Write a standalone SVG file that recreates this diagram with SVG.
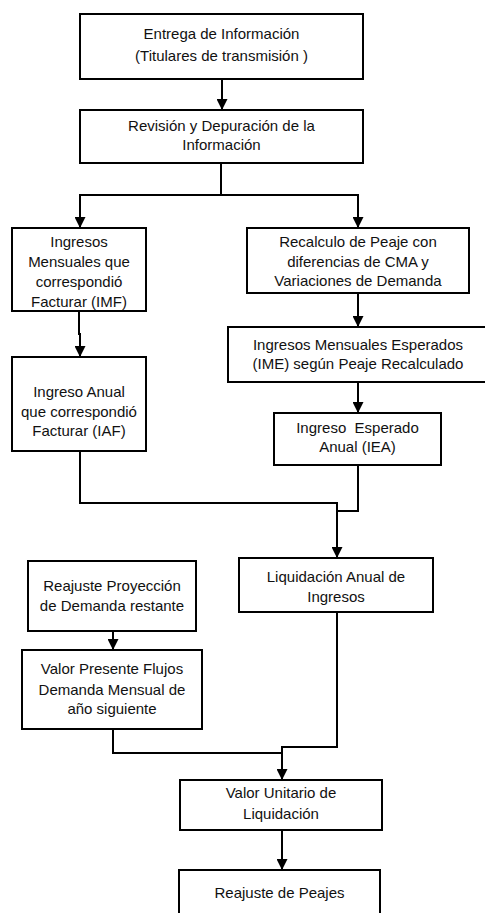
<svg xmlns="http://www.w3.org/2000/svg" width="485" height="913" viewBox="0 0 485 913">
<style>
.box{fill:#fff;stroke:#000;stroke-width:2}
.t{font-family:"Liberation Sans",Arial,sans-serif;font-size:15px;fill:#111;text-anchor:middle}
.c{fill:none;stroke:#000;stroke-width:2}
</style>
<defs>
<marker id="ah" markerUnits="userSpaceOnUse" markerWidth="12" markerHeight="11" refX="11" refY="5.5" orient="auto">
<path d="M0,0 L11,5.5 L0,11 z" fill="#000"/>
</marker>
</defs>
<rect width="485" height="913" fill="#fff"/>
<g id="connectors">
<path class="c" d="M222,79 V110" marker-end="url(#ah)"/>
<path class="c" d="M221,163 V195 H80 V228" marker-end="url(#ah)"/>
<path class="c" d="M221,195 H358 V228" marker-end="url(#ah)"/>
<path class="c" d="M79,311 V334 H80 V357" marker-end="url(#ah)"/>
<path class="c" d="M358,293 V327" marker-end="url(#ah)"/>
<path class="c" d="M358,382 V413" marker-end="url(#ah)"/>
<path class="c" d="M80,451 V503 H337 V558" marker-end="url(#ah)"/>
<path class="c" d="M358,465 V511 H337"/>
<path class="c" d="M113,631 V650" marker-end="url(#ah)"/>
<path class="c" d="M337,612 V747 H282 V780" marker-end="url(#ah)"/>
<path class="c" d="M113,729 V753 H282"/>
<path class="c" d="M282,830 V870" marker-end="url(#ah)"/>
</g>
<g id="n1"><rect class="box" x="80" y="14" width="283" height="65"/>
<text class="t" x="221.5" y="39">Entrega de Información</text>
<text class="t" x="221.5" y="61">(Titulares de transmisión )</text></g>
<g id="n2"><rect class="box" x="80" y="110" width="283" height="53"/>
<text class="t" x="221.5" y="131">Revisión y Depuración de la</text>
<text class="t" x="221.5" y="150">Información</text></g>
<g id="n3"><rect class="box" x="12" y="228" width="134" height="83"/>
<text class="t" x="79" y="247">Ingresos</text>
<text class="t" x="79" y="267">Mensuales que</text>
<text class="t" x="79" y="287">correspondió</text>
<text class="t" x="79" y="307">Facturar (IMF)</text></g>
<g id="n4"><rect class="box" x="12" y="357" width="134" height="94"/>
<text class="t" x="79" y="397">Ingreso Anual</text>
<text class="t" x="79" y="417">que correspondió</text>
<text class="t" x="79" y="436">Facturar (IAF)</text></g>
<g id="n5"><rect class="box" x="247" y="228" width="222" height="65"/>
<text class="t" x="358" y="247">Recalculo de Peaje con</text>
<text class="t" x="358" y="267">diferencias de CMA y</text>
<text class="t" x="358" y="286">Variaciones de Demanda</text></g>
<g id="n6"><rect class="box" x="228" y="327" width="260" height="55"/>
<text class="t" x="358" y="350">Ingresos Mensuales Esperados</text>
<text class="t" x="358" y="369">(IME) según Peaje Recalculado</text></g>
<g id="n7"><rect class="box" x="274" y="413" width="167" height="52"/>
<text class="t" x="357.5" y="433" xml:space="preserve">Ingreso  Esperado</text>
<text class="t" x="357.5" y="452">Anual (IEA)</text></g>
<g id="n8"><rect class="box" x="239" y="558" width="194" height="54"/>
<text class="t" x="336" y="582">Liquidación Anual de</text>
<text class="t" x="336" y="602">Ingresos</text></g>
<g id="n9"><rect class="box" x="28" y="561" width="168" height="70"/>
<text class="t" x="112" y="591">Reajuste Proyección</text>
<text class="t" x="112" y="611">de Demanda restante</text></g>
<g id="n10"><rect class="box" x="22" y="650" width="180" height="79"/>
<text class="t" x="112" y="674">Valor Presente Flujos</text>
<text class="t" x="112" y="695">Demanda Mensual de</text>
<text class="t" x="112" y="714">año siguiente</text></g>
<g id="n11"><rect class="box" x="180" y="780" width="202" height="50"/>
<text class="t" x="281" y="798">Valor Unitario de</text>
<text class="t" x="281" y="819">Liquidación</text></g>
<g id="n12"><rect class="box" x="179" y="870" width="201" height="60"/>
<text class="t" x="279.5" y="898">Reajuste de Peajes</text></g>
</svg>
